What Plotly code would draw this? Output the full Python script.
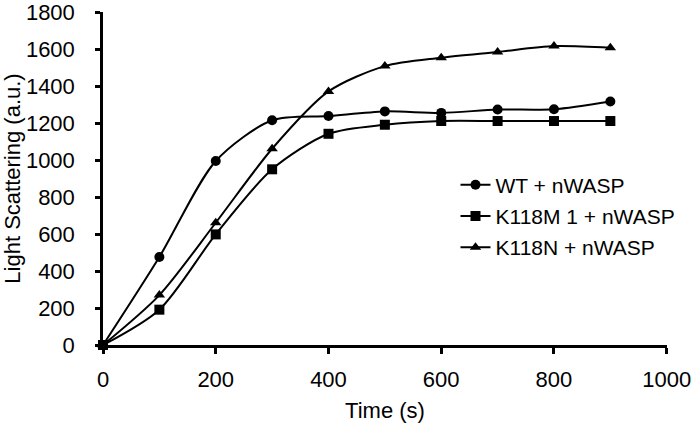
import plotly.graph_objects as go

time_s = [0, 100, 200, 300, 400, 500, 600, 700, 800, 900]
wt = [0, 476, 995, 1215, 1238, 1263, 1255, 1273, 1275, 1317]
k118m = [0, 191, 598, 950, 1142, 1191, 1211, 1211, 1211, 1211]
k118n = [0, 270, 661, 1061, 1371, 1508, 1553, 1584, 1616, 1607]

names = ["WT + nWASP", "K118M 1 + nWASP", "K118N + nWASP"]
symbols = ["circle", "square", "triangle-up"]
sizes = [10, 10, 10]

fig = go.Figure()
for i, (name, ys) in enumerate(zip(names, [wt, k118m, k118n])):
    fig.add_trace(go.Scatter(
        x=time_s, y=ys, name=name, mode="lines+markers",
        line=dict(color="black", width=2, shape="spline", smoothing=0.8),
        marker=dict(symbol=symbols[i], size=sizes[i], color="black"),
        legendgroup=f"g{i}",
    ))

font_family = "Liberation Sans, Arial, sans-serif"
fig.update_layout(
    width=693, height=423,
    margin=dict(l=103, r=26, t=12, b=78),
    plot_bgcolor="white", paper_bgcolor="white",
    font=dict(family=font_family, color="black", size=22),
    showlegend=True,
    legend=dict(x=0.625, y=0.542, xanchor="left", yanchor="top",
                font=dict(size=21), bgcolor="rgba(0,0,0,0)",
                tracegroupgap=1, itemwidth=30),
    xaxis=dict(range=[0, 1000.5], tickvals=[0, 200, 400, 600, 800, 1000],
               showgrid=False, zeroline=False, showline=True, linecolor="black",
               linewidth=2.5, ticks="outside", ticklen=6, tickwidth=2.5,
               tickcolor="black", tickfont=dict(size=22), automargin=False,
               ticklabelstandoff=7, ticklabeloverflow="allow",
               title=dict(text="Time (s)", font=dict(size=22), standoff=14)),
    yaxis=dict(range=[0, 1800.5], tickvals=list(range(0, 1801, 200)),
               showgrid=False, zeroline=False, showline=True, linecolor="black",
               linewidth=2.5, ticks="outside", ticklen=5, tickwidth=2.5,
               tickcolor="black", tickfont=dict(size=22), automargin=False,
               ticklabelstandoff=16, ticklabeloverflow="allow",
               title=dict(text="Light Scattering (a.u.)", font=dict(size=22), standoff=6)),
)
fig.update_traces(cliponaxis=False)

fig.write_html("out.html", config={"displayModeBar": False},
               post_script="document.body.style.margin='0';")
